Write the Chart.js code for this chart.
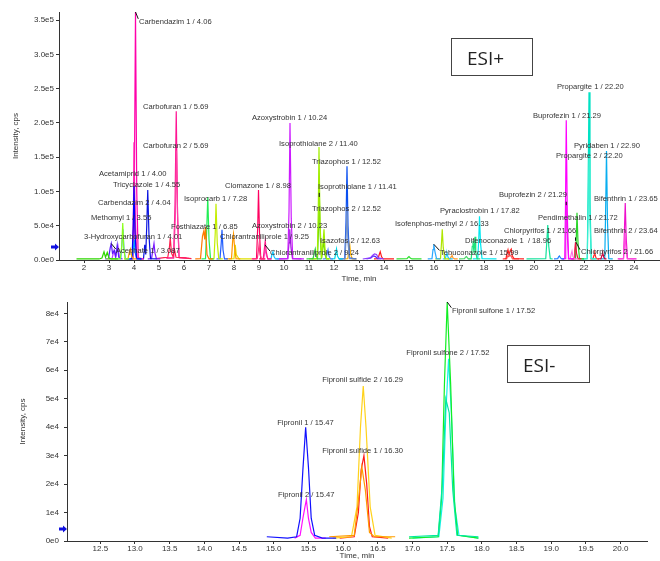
<!DOCTYPE html>
<html>
<head>
<meta charset="utf-8">
<script src="https://cdn.jsdelivr.net/npm/chart.js@4.4.1/dist/chart.umd.min.js"></script>
<style>
    body { margin: 0; background: #fff; width: 660px; height: 561px; overflow: hidden; position: relative; }
    canvas { position: absolute; left: 0; }
    #topChart { top: 0; }
    #bottomChart { top: 290px; }
    .esi {
        position: absolute; box-sizing: border-box; border: 1px solid #444;
        font-family: "Open Sans", "Noto Sans", sans-serif; font-size: 19px; color: #222;
        padding-left: 15px; line-height: 38px;
    }
</style>
</head>
<body>
<canvas id="topChart" width="660" height="290"></canvas>
<canvas id="bottomChart" width="660" height="271"></canvas>
<div class="esi" style="left:451px;top:38px;width:82px;height:38px;">ESI+</div>
<div class="esi" style="left:507px;top:345px;width:83px;height:38px;">ESI-</div>
<script>
// Axis ticks
const xTicksTop = [2, 3, 4, 5, 6, 7, 8, 9, 10, 11, 12, 13, 14, 15, 16, 17, 18, 19, 20, 21, 22, 23, 24];
const yTicksTop = [0, 5e4, 10e4, 15e4, 20e4, 25e4, 30e4, 35e4];
const xTicksBottom = [12.5, 13.0, 13.5, 14.0, 14.5, 15.0, 15.5, 16.0, 16.5, 17.0, 17.5, 18.0, 18.5, 19.0, 19.5, 20.0];
const yTicksBottom = [0, 1e4, 2e4, 3e4, 4e4, 5e4, 6e4, 7e4, 8e4];

// ESI+ traces: [time (min), intensity (cps)]
const xic01 = [[1.7,1.5e3],[2.6,1.5e3],[2.72,3e3],[2.8,12e3],[2.86,4e3],[2.93,11e3],[3.0,3e3],[3.1,1.5e3],[3.35,1.5e3]];
const methomyl1 = [[2.9,1.5e3],[3.45,1.5e3],[3.51,20e3],[3.55,54e3],[3.59,18e3],[3.65,1.5e3],[3.8,1.5e3]];
const methomyl2 = [[3.3,1.5e3],[3.47,2e3],[3.52,25e3],[3.56,45e3],[3.6,15e3],[3.66,1.5e3],[3.85,1.5e3]];
const acephate1 = [[2.85,1.5e3],[2.98,2e3],[3.05,18e3],[3.09,24e3],[3.14,10e3],[3.22,14e3],[3.27,5e3],[3.33,22e3],[3.39,4e3],[3.5,1.5e3]];
const xic02 = [[3.0,1.5e3],[3.12,2e3],[3.2,14e3],[3.26,4e3],[3.36,20e3],[3.42,3e3],[3.55,1.5e3]];
const xic03 = [[3.6,1.5e3],[3.76,2e3],[3.82,12e3],[3.86,16e3],[3.91,5e3],[3.98,1.5e3],[4.1,1.5e3]];
const acetamiprid2 = [[3.7,1.5e3],[3.92,2e3],[3.97,50e3],[4.0,108e3],[4.04,40e3],[4.1,2e3],[4.3,1.5e3]];
const hydroxycarbofuran1 = [[3.75,1.5e3],[3.93,2e3],[3.98,18e3],[4.01,30e3],[4.05,10e3],[4.12,1.5e3],[4.3,1.5e3]];
const acetamiprid1 = [[3.75,1.5e3],[3.94,2e3],[3.98,80e3],[4.0,172e3],[4.04,70e3],[4.1,2e3],[4.35,1.5e3]];
const carbendazim2 = [[3.8,1.5e3],[3.97,2e3],[4.01,40e3],[4.04,85e3],[4.08,30e3],[4.14,2e3],[4.35,1.5e3]];
const carbendazim1 = [[3.75,1.5e3],[3.96,2e3],[4.01,90e3],[4.06,362e3],[4.11,100e3],[4.17,3e3],[4.4,1.5e3]];
const tricyclazole1 = [[4.25,1.5e3],[4.38,2e3],[4.43,22e3],[4.47,8e3],[4.51,50e3],[4.55,102e3],[4.6,35e3],[4.66,2e3],[4.9,1.5e3]];
const xic04 = [[4.55,1.5e3],[4.7,2e3],[4.76,15e3],[4.8,24e3],[4.84,10e3],[4.9,1.5e3],[5.05,1.5e3]];
const xic05 = [[4.9,2e3],[5.2,3.5e3],[5.35,4e3],[5.41,16e3],[5.45,32e3],[5.5,10e3],[5.56,5e3],[5.62,15e3],[5.68,4e3],[5.9,3.5e3],[6.3,2e3]];
const carbofuran2 = [[5.3,2.5e3],[5.59,3e3],[5.65,60e3],[5.7,160e3],[5.75,50e3],[5.81,3e3],[6.2,2.5e3]];
const carbofuran1 = [[5.3,3e3],[5.58,3e3],[5.64,80e3],[5.69,217e3],[5.74,70e3],[5.8,4e3],[6.1,3e3]];
const fosthiazate1 = [[6.45,1.5e3],[6.66,2e3],[6.74,35e3],[6.79,42e3],[6.83,30e3],[6.86,48e3],[6.92,8e3],[7.0,1.5e3],[7.15,1.5e3]];
const xic06 = [[6.7,1.5e3],[6.86,2e3],[6.91,45e3],[6.95,92e3],[7.0,30e3],[7.06,2e3],[7.2,1.5e3]];
const isoprocarb1 = [[7.0,1.5e3],[7.2,2e3],[7.25,40e3],[7.28,82e3],[7.33,25e3],[7.39,2e3],[7.55,1.5e3]];
const xic07 = [[7.3,1.5e3],[7.44,2e3],[7.49,25e3],[7.52,44e3],[7.56,15e3],[7.62,1.5e3],[7.75,1.5e3]];
const xic08 = [[7.7,1.5e3],[7.9,2e3],[7.95,30e3],[7.98,38e3],[8.02,20e3],[8.08,2e3],[8.25,1.5e3]];
const xic09 = [[7.8,1.5e3],[8.0,2e3],[8.05,22e3],[8.09,8e3],[8.2,1.5e3],[8.7,1.5e3]];
const clomazone2 = [[8.75,1.5e3],[8.93,2e3],[8.97,12e3],[9.0,22e3],[9.04,8e3],[9.1,1.5e3],[9.25,1.5e3]];
const clomazone1 = [[8.7,1.5e3],[8.9,2e3],[8.95,50e3],[8.98,102e3],[9.02,40e3],[9.07,2e3],[9.25,1.5e3]];
const chlorantraniliprole1 = [[9.0,1.5e3],[9.17,2e3],[9.21,15e3],[9.25,28e3],[9.29,12e3],[9.35,1.5e3],[9.5,1.5e3]];
const chlorantraniliprole2 = [[9.05,1.5e3],[9.19,2e3],[9.22,9e3],[9.25,15e3],[9.3,6e3],[9.36,1.5e3],[9.5,1.5e3]];
const xic10 = [[9.35,1.5e3],[9.48,2e3],[9.52,8e3],[9.56,12e3],[9.6,5e3],[9.66,1.5e3],[9.8,1.5e3]];
const azoxystrobin1 = [[9.7,1.5e3],[10.15,2e3],[10.2,70e3],[10.24,200e3],[10.29,60e3],[10.35,2e3],[10.8,1.5e3]];
const azoxystrobin2 = [[9.8,1.5e3],[10.15,2e3],[10.2,25e3],[10.23,45e3],[10.28,18e3],[10.34,2e3],[10.7,1.5e3]];
const xic11 = [[10.9,1.5e3],[11.16,2e3],[11.21,10e3],[11.25,16e3],[11.29,7e3],[11.34,1.5e3],[11.5,1.5e3]];
const isoprothiolane2 = [[11.0,1.5e3],[11.33,2e3],[11.37,70e3],[11.4,165e3],[11.44,55e3],[11.5,3e3],[11.57,30e3],[11.6,45e3],[11.64,15e3],[11.7,2e3],[11.85,1.5e3]];
const isoprothiolane1 = [[11.1,1.5e3],[11.34,2e3],[11.38,45e3],[11.41,100e3],[11.45,35e3],[11.5,2e3],[11.56,18e3],[11.6,28e3],[11.64,8e3],[11.7,1.5e3],[11.8,1.5e3]];
const xic12 = [[11.55,1.5e3],[11.68,2e3],[11.72,9e3],[11.76,15e3],[11.8,6e3],[11.86,1.5e3],[11.95,1.5e3]];
const xic13 = [[11.9,1.5e3],[12.03,2e3],[12.07,10e3],[12.1,16e3],[12.14,6e3],[12.2,1.5e3],[12.35,1.5e3]];
const triazophos2 = [[12.25,1.5e3],[12.44,2e3],[12.48,30e3],[12.52,72e3],[12.56,25e3],[12.62,2e3],[12.85,1.5e3]];
const triazophos1 = [[12.2,1.5e3],[12.43,2e3],[12.48,55e3],[12.52,137e3],[12.56,50e3],[12.62,3e3],[12.9,1.5e3]];
const isazofos2 = [[12.4,1.5e3],[12.55,2e3],[12.59,12e3],[12.63,22e3],[12.67,8e3],[12.73,1.5e3],[12.9,1.5e3]];
const xic14 = [[13.15,1.5e3],[13.45,3e3],[13.55,7e3],[13.62,9e3],[13.7,8e3],[13.78,3e3],[14.0,1.5e3]];
const xic15 = [[13.3,1.5e3],[13.48,3e3],[13.58,6e3],[13.66,5e3],[13.74,2e3],[13.9,1.5e3]];
const xic16 = [[13.6,1.5e3],[13.76,2e3],[13.81,8e3],[13.85,12e3],[13.9,5e3],[13.96,1.5e3],[14.4,1.5e3]];
const xic17 = [[14.5,1.5e3],[14.92,2e3],[14.97,4e3],[15.0,5e3],[15.05,3e3],[15.12,1.5e3],[15.5,1.5e3]];
const tebuconazole1 = [[15.75,1.5e3],[15.92,2e3],[15.96,15e3],[15.99,23e3],[16.04,12e3],[16.1,2e3],[16.25,1.5e3]];
const isofenphosMethyl2 = [[16.05,1.5e3],[16.26,2e3],[16.3,25e3],[16.33,45e3],[16.37,18e3],[16.43,1.5e3],[16.6,1.5e3]];
const xic18 = [[16.35,1.5e3],[16.45,2e3],[16.49,7e3],[16.52,10e3],[16.56,4e3],[16.62,1.5e3],[16.75,1.5e3]];
const xic19 = [[16.55,1.5e3],[16.65,2e3],[16.69,5e3],[16.72,7e3],[16.76,3e3],[16.82,1.5e3],[16.95,1.5e3]];
const xic20 = [[17.0,1.5e3],[17.22,2e3],[17.26,4e3],[17.3,5e3],[17.34,3e3],[17.4,1.5e3],[17.5,1.5e3]];
const xic21 = [[17.35,1.5e3],[17.49,2e3],[17.53,20e3],[17.56,28e3],[17.6,10e3],[17.64,34e3],[17.67,12e3],[17.72,1.5e3],[17.85,1.5e3]];
const pyraclostrobin1 = [[17.55,1.5e3],[17.75,2e3],[17.79,30e3],[17.82,64e3],[17.86,25e3],[17.92,2e3],[18.5,1.5e3]];
const difenoconazole1 = [[18.75,1.5e3],[18.88,2e3],[18.92,10e3],[18.96,15e3],[19.0,8e3],[19.05,14e3],[19.09,16e3],[19.13,6e3],[19.2,2e3],[19.6,1.5e3]];
const difenoconazole2 = [[18.85,1.5e3],[18.91,2e3],[18.95,6e3],[18.99,5e3],[19.03,7e3],[19.08,6e3],[19.14,1.5e3],[19.4,1.5e3]];
const chlorpyrifos1 = [[19.7,1.5e3],[20.47,2e3],[20.51,25e3],[20.55,51e3],[20.59,20e3],[20.65,2e3],[20.75,1.5e3]];
const xic22 = [[20.8,1.5e3],[20.95,2e3],[20.99,5e3],[21.02,6e3],[21.06,3e3],[21.12,1.5e3],[21.2,1.5e3]];
const buprofezin1 = [[21.1,1.5e3],[21.23,2e3],[21.26,80e3],[21.29,204e3],[21.33,70e3],[21.38,2e3],[21.6,1.5e3]];
const buprofezin2 = [[21.15,1.5e3],[21.24,2e3],[21.27,35e3],[21.3,85e3],[21.34,30e3],[21.39,2e3],[21.55,1.5e3]];
const xic23 = [[21.35,1.5e3],[21.45,2e3],[21.49,9e3],[21.52,13e3],[21.56,5e3],[21.62,1.5e3],[21.75,1.5e3]];
const chlorpyrifos2 = [[21.5,1.5e3],[21.6,2e3],[21.63,14e3],[21.66,26e3],[21.7,10e3],[21.76,1.5e3],[21.9,1.5e3]];
const pendimethalin1 = [[21.5,1.5e3],[21.66,2e3],[21.69,30e3],[21.72,69e3],[21.76,25e3],[21.82,2e3],[22.0,1.5e3]];
const propargite2 = [[21.95,1.5e3],[22.13,2e3],[22.16,60e3],[22.2,150e3],[22.24,55e3],[22.29,2e3],[22.45,1.5e3]];
const propargite1 = [[21.9,1.5e3],[22.13,2e3],[22.16,90e3],[22.2,245e3],[22.24,85e3],[22.29,2e3],[22.5,1.5e3]];
const xic24 = [[22.25,1.5e3],[22.36,2e3],[22.4,7e3],[22.43,10e3],[22.47,4e3],[22.52,1.5e3],[22.6,1.5e3]];
const xic25 = [[22.55,1.5e3],[22.68,2e3],[22.72,7e3],[22.75,10e3],[22.79,4e3],[22.84,1.5e3],[22.9,1.5e3]];
const pyridaben1 = [[22.65,1.5e3],[22.83,2e3],[22.86,60e3],[22.9,159e3],[22.94,55e3],[22.99,2e3],[23.15,1.5e3]];
const bifenthrin2 = [[23.4,1.5e3],[23.58,2e3],[23.61,18e3],[23.64,40e3],[23.68,15e3],[23.73,2e3],[24.0,1.5e3]];
const bifenthrin1 = [[23.35,1.5e3],[23.58,2e3],[23.61,35e3],[23.65,83e3],[23.69,30e3],[23.74,2e3],[24.1,1.5e3]];

// ESI- traces
const fipronil1 = [[14.9,1.5e3],[15.2,1e3],[15.33,1.5e3],[15.38,8e3],[15.42,25e3],[15.46,40e3],[15.5,26e3],[15.54,8e3],[15.59,2e3],[15.7,1e3],[15.9,1e3]];
const fipronil2 = [[15.3,1e3],[15.38,2e3],[15.42,8e3],[15.45,12e3],[15.47,14.5e3],[15.5,8e3],[15.54,3e3],[15.6,1e3],[15.75,1e3]];
const fipronilSulfide3 = [[15.8,1.5e3],[16.16,2e3],[16.22,14e3],[16.27,26e3],[16.32,18e3],[16.38,3e3],[16.45,1.5e3],[16.75,1.5e3]];
const fipronilSulfide2 = [[15.85,1e3],[16.12,1.5e3],[16.2,12e3],[16.25,40e3],[16.29,54.5e3],[16.33,40e3],[16.39,12e3],[16.46,2e3],[16.7,1e3]];
const fipronilSulfide1 = [[15.95,1e3],[16.16,1.5e3],[16.22,10e3],[16.26,25e3],[16.3,30e3],[16.34,20e3],[16.38,5e3],[16.42,1.5e3],[16.65,1e3]];
const fipronilSulfone3 = [[16.95,1.5e3],[17.37,2e3],[17.43,20e3],[17.48,50e3],[17.53,45e3],[17.58,18e3],[17.64,2e3],[17.95,1.5e3]];
const fipronilSulfone1 = [[16.95,1e3],[17.37,1.5e3],[17.42,15e3],[17.46,55e3],[17.5,84e3],[17.55,55e3],[17.6,15e3],[17.65,2e3],[17.95,1e3]];
const fipronilSulfone2 = [[17.0,1e3],[17.38,1.5e3],[17.44,15e3],[17.48,45e3],[17.52,64e3],[17.56,45e3],[17.61,12e3],[17.67,2e3],[17.95,1e3]];

const topSeries = [xic01, methomyl1, methomyl2, acephate1, xic02, xic03, acetamiprid2, hydroxycarbofuran1,
    acetamiprid1, carbendazim2, carbendazim1, tricyclazole1, xic04, xic05, carbofuran2, carbofuran1,
    fosthiazate1, xic06, isoprocarb1, xic07, xic08, xic09, clomazone2, clomazone1, chlorantraniliprole1,
    chlorantraniliprole2, xic10, azoxystrobin1, azoxystrobin2, xic11, isoprothiolane2, isoprothiolane1,
    xic12, xic13, triazophos2, triazophos1, isazofos2, xic14, xic15, xic16, xic17, tebuconazole1,
    isofenphosMethyl2, xic18, xic19, xic20, xic21, pyraclostrobin1, difenoconazole1, difenoconazole2,
    chlorpyrifos1, xic22, buprofezin1, buprofezin2, xic23, chlorpyrifos2, pendimethalin1, propargite2,
    propargite1, xic24, xic25, pyridaben1, bifenthrin2, bifenthrin1];
const topColors = ['#2ed600', '#8cff1a', '#33aaff', '#5a1aff', '#b13dff', '#ffa500', '#0000ff', '#0099ff',
    '#ff1ab3', '#ff4dc4', '#ff00aa', '#0a14e0', '#7a1aff', '#ff2050', '#ff3fa5', '#ff1493',
    '#ff7b00', '#22ee55', '#c4ee00', '#1f5dff', '#ff9800', '#e0e000', '#ff3380', '#ff0060', '#ff1a8c',
    '#ff55cc', '#11c4ff', '#cc1aff', '#9a1ad6', '#2ecc40', '#a2ee00', '#5fd400',
    '#3b7bff', '#00d8e8', '#6f8fc8', '#0a50f0', '#ffb400', '#8c3cff', '#5528ff', '#ff1a1a', '#2fe02f', '#2aa8ff',
    '#b0e600', '#1ec8ff', '#ff9a2a', '#4cd96a', '#1ee37a', '#00e8f0', '#ff1f1f', '#ff5a5a',
    '#14e29c', '#2080ff', '#ff00ff', '#e830e8', '#ff70e0', '#ee1144', '#28d628', '#3cf0d2',
    '#00e2c4', '#ff2a2a', '#d4003c', '#08aef0', '#ff4ae0', '#ee10cc'];

const bottomSeries = [fipronil1, fipronil2, fipronilSulfide3, fipronilSulfide2, fipronilSulfide1,
    fipronilSulfone3, fipronilSulfone1, fipronilSulfone2];
const bottomColors = ['#1010ff', '#ff10ff', '#ff9a00', '#ffd21a', '#ff1a1a', '#00e8a0', '#11ee22', '#18f0e8'];

// Peak labels: [text, time, intensity]
const labelsTop = [
    ['Carbendazim 1 / 4.06', 4.20, 347e3],
    ['Carbofuran 1 / 5.69', 4.36, 224e3],
    ['Azoxystrobin 1 / 10.24', 8.72, 207e3],
    ['Isoprothiolane 2 / 11.40', 9.80, 170e3],
    ['Carbofuran 2 / 5.69', 4.36, 166e3],
    ['Triazophos 1 / 12.52', 11.12, 143e3],
    ['Acetamiprid 1 / 4.00', 2.60, 125e3],
    ['Tricyclazole 1 / 4.55', 3.16, 109e3],
    ['Clomazone 1 / 8.98', 7.64, 108e3],
    ['Isoprothiolane 1 / 11.41', 11.36, 106e3],
    ['Isoprocarb 1 / 7.28', 6.00, 89e3],
    ['Carbendazim 2 / 4.04', 2.56, 83e3],
    ['Triazophos 2 / 12.52', 11.12, 74e3],
    ['Methomyl 1 / 3.55', 2.28, 61e3],
    ['Fosthiazate 1 / 6.85', 5.48, 48e3],
    ['Azoxystrobin 2 / 10.23', 8.72, 50e3],
    ['3-Hydroxycarbofuran 1 / 4.01', 2.00, 33.5e3],
    ['Chlorantraniliprole 1 / 9.25', 7.44, 33.5e3],
    ['Isazofos 2 / 12.63', 11.44, 27.7e3],
    ['Acephate 1 / 3.087', 3.28, 13e3],
    ['Chlorantraniliprole 2 / 9.24', 9.44, 10e3],
    ['Propargite 1 / 22.20', 20.92, 252e3],
    ['Buprofezin 1 / 21.29', 19.96, 211e3],
    ['Pyridaben 1 / 22.90', 21.60, 166e3],
    ['Propargite 2 / 22.20', 20.88, 152e3],
    ['Buprofezin 2 / 21.29', 18.60, 95e3],
    ['Bifenthrin 1 / 23.65', 22.40, 89e3],
    ['Pyraclostrobin 1 / 17.82', 16.24, 71e3],
    ['Pendimethalin 1 / 21.72', 20.16, 61e3],
    ['Isofenphos-methyl 2 / 16.33', 14.44, 52.5e3],
    ['Chlorpyrifos 1 / 21.66', 18.80, 42e3],
    ['Bifenthrin 2 / 23.64', 22.40, 42e3],
    ['Difenoconazole 1  / 18.96', 17.24, 27.7e3],
    ['Tebuconazole 1 / 15.99', 16.24, 10e3],
    ['Chlorpyrifos 2 / 21.66', 21.88, 11.7e3]
];
const labelsBottom = [
    ['Fipronil sulfone 1 / 17.52', 17.57, 80.7e3],
    ['Fipronil sulfone 2 / 17.52', 16.91, 66e3],
    ['Fipronil sulfide 2 / 16.29', 15.70, 56.5e3],
    ['Fipronil 1 / 15.47', 15.05, 41.4e3],
    ['Fipronil sulfide 1 / 16.30', 15.70, 31.6e3],
    ['Fipronil 2 / 15.47', 15.06, 16.1e3]
];

// Label leader lines: [time1, intensity1, time2, intensity2]
const leadersTop = [
    [4.06, 362e3, 4.17, 352e3],
    [3.09, 24e3, 3.27, 16e3],
    [9.24, 22e3, 9.44, 13e3],
    [15.99, 23e3, 16.22, 14e3],
    [11.41, 98e3, 11.41, 92e3],
    [21.29, 85e3, 21.29, 80e3],
    [21.66, 33e3, 21.66, 28e3],
    [21.68, 26e3, 21.84, 15e3]
];
const leadersBottom = [
    [17.5, 84e3, 17.56, 82e3]
];

// Threshold arrows on the intensity axes
const thresholdTop = 19e3;
const thresholdBottom = 4.2e3;

const fontFamily = '"Liberation Sans", Arial, sans-serif';
const textColor = '#333';

function makeAnnotator(labels, leaders, threshold) {
    return {
        id: 'annotator',
        afterDatasetsDraw(chart) {
            const { ctx, scales: { x, y } } = chart;
            ctx.save();
            ctx.strokeStyle = '#111';
            ctx.lineWidth = 1;
            leaders.forEach(([t1, i1, t2, i2]) => {
                ctx.beginPath();
                ctx.moveTo(x.getPixelForValue(t1), y.getPixelForValue(i1));
                ctx.lineTo(x.getPixelForValue(t2), y.getPixelForValue(i2));
                ctx.stroke();
            });
            ctx.font = '7.6px ' + fontFamily;
            ctx.fillStyle = textColor;
            ctx.textAlign = 'left';
            ctx.textBaseline = 'middle';
            labels.forEach(([text, t, i]) => {
                ctx.fillText(text, x.getPixelForValue(t), y.getPixelForValue(i));
            });
            // blue arrow at the axis
            const ay = y.getPixelForValue(threshold);
            const ax = x.left;
            ctx.fillStyle = '#1010e0';
            ctx.beginPath();
            ctx.moveTo(ax - 8, ay - 1.5);
            ctx.lineTo(ax - 4, ay - 1.5);
            ctx.lineTo(ax - 4, ay - 3.5);
            ctx.lineTo(ax, ay);
            ctx.lineTo(ax - 4, ay + 3.5);
            ctx.lineTo(ax - 4, ay + 1.5);
            ctx.lineTo(ax - 8, ay + 1.5);
            ctx.closePath();
            ctx.fill();
            ctx.restore();
        }
    };
}

function buildDatasets(series, colors) {
    return series.map((data, i) => ({
        data: data,
        borderColor: colors[i],
        borderWidth: 1.2,
        pointRadius: 0,
        showLine: true,
        fill: false,
        tension: 0
    }));
}

function axisStyle() {
    return {
        grid: { display: true, drawOnChartArea: false, drawTicks: true, tickLength: 3, color: textColor },
        border: { display: true, color: textColor, width: 1 }
    };
}

function makeChart(canvasId, cfg) {
    return new Chart(document.getElementById(canvasId), {
        type: 'scatter',
        data: { datasets: buildDatasets(cfg.series, cfg.colors) },
        options: {
            responsive: false,
            animation: false,
            devicePixelRatio: 1,
            layout: { padding: cfg.padding },
            plugins: { legend: { display: false }, tooltip: { enabled: false } },
            scales: {
                x: {
                    type: 'linear',
                    min: cfg.xMin,
                    max: cfg.xMax,
                    ...axisStyle(),
                    ticks: {
                        autoSkip: false,
                        maxRotation: 0,
                        padding: cfg.xTickPad,
                        color: textColor,
                        font: { size: 8, family: fontFamily },
                        callback: cfg.xFormat
                    },
                    afterBuildTicks: s => { s.ticks = cfg.xTicks.map(v => ({ value: v })); },
                    title: {
                        display: true, text: 'Time, min', color: textColor,
                        font: { size: 8, family: fontFamily },
                        padding: { top: 0, bottom: cfg.xTitlePad }
                    },
                    afterFit: s => { s.height = cfg.xHeight; }
                },
                y: {
                    min: 0,
                    max: cfg.yMax,
                    ...axisStyle(),
                    ticks: {
                        autoSkip: false,
                        padding: cfg.yTickPad,
                        color: textColor,
                        font: { size: 8, family: fontFamily },
                        callback: cfg.yFormat
                    },
                    afterBuildTicks: s => { s.ticks = cfg.yTicks.map(v => ({ value: v })); },
                    title: {
                        display: true, text: 'Intensity, cps', color: textColor,
                        font: { size: 8, family: fontFamily },
                        padding: { top: cfg.yTitlePad, bottom: 0 }
                    },
                    afterFit: s => { s.width = cfg.yWidth; }
                }
            }
        },
        plugins: [makeAnnotator(cfg.labels, cfg.leaders, cfg.threshold)]
    });
}

// ESI+ chromatogram
makeChart('topChart', {
    series: topSeries, colors: topColors,
    labels: labelsTop, leaders: leadersTop, threshold: thresholdTop,
    padding: { top: 12, right: 1, bottom: 0, left: 0 },
    xMin: 1.0, xMax: 25.0, xTicks: xTicksTop, xTickPad: 0, xTitlePad: 6, xHeight: 30,
    xFormat: v => String(v),
    yMax: 362000, yTicks: yTicksTop, yTickPad: 2, yTitlePad: 11, yWidth: 59,
    yFormat: v => v.toExponential(1).replace('e+', 'e')
});

// ESI- chromatogram
makeChart('bottomChart', {
    series: bottomSeries, colors: bottomColors,
    labels: labelsBottom, leaders: leadersBottom, threshold: thresholdBottom,
    padding: { top: 12, right: 13, bottom: 0, left: 0 },
    xMin: 12.02, xMax: 20.38, xTicks: xTicksBottom, xTickPad: 0, xTitlePad: 0, xHeight: 20,
    xFormat: v => v.toFixed(1),
    yMax: 84000, yTicks: yTicksBottom, yTickPad: 5, yTitlePad: 18, yWidth: 67,
    yFormat: v => v.toExponential(0).replace('e+', 'e')
});
</script>
</body>
</html>
